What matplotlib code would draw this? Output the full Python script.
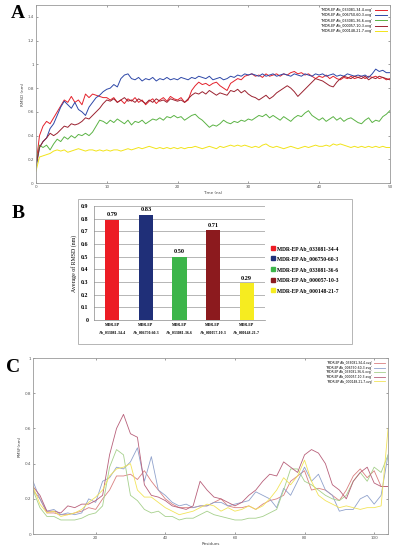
import matplotlib.pyplot as plt
from matplotlib.patches import Rectangle
from matplotlib.lines import Line2D
import numpy as np

# ---- panel A: RMSD vs time (ns), 0.5 ns steps ----
time_ns = [i * 0.5 for i in range(101)]

rmsd_033081_34 = [
    0.15, 0.40, 0.48, 0.52, 0.50, 0.55, 0.60, 0.65, 0.70, 0.68, 0.73, 0.68, 0.70, 0.66, 0.75, 0.72, 0.75, 0.74, 0.73, 0.72, 0.72,
    0.70, 0.72, 0.68, 0.70, 0.67, 0.71, 0.69, 0.72, 0.68, 0.70, 0.66, 0.69, 0.71, 0.67, 0.70, 0.72, 0.69, 0.73, 0.71, 0.70,
    0.72, 0.68, 0.70, 0.78, 0.82, 0.85, 0.83, 0.84, 0.82, 0.84, 0.85, 0.82, 0.80, 0.78, 0.84, 0.86, 0.88, 0.87, 0.90, 0.91,
    0.92, 0.90, 0.91, 0.89, 0.92, 0.90, 0.91, 0.92, 0.90, 0.92, 0.91, 0.93, 0.94, 0.92, 0.93, 0.91, 0.92, 0.90, 0.88, 0.90,
    0.89, 0.91, 0.88, 0.90, 0.88, 0.87, 0.89, 0.88, 0.90, 0.88, 0.89, 0.90, 0.88, 0.90, 0.89, 0.90, 0.88, 0.89, 0.87, 0.88]
rmsd_006750_60 = [
    0.12, 0.30, 0.35, 0.38, 0.46, 0.50, 0.57, 0.64, 0.69, 0.66, 0.63, 0.68, 0.62, 0.60, 0.57, 0.64, 0.68, 0.72, 0.74, 0.77, 0.79,
    0.80, 0.83, 0.81, 0.88, 0.91, 0.92, 0.88, 0.87, 0.89, 0.86, 0.88, 0.87, 0.89, 0.86, 0.88, 0.87, 0.89, 0.87, 0.88, 0.87,
    0.89, 0.88, 0.87, 0.89, 0.88, 0.90, 0.89, 0.88, 0.90, 0.87, 0.88, 0.89, 0.87, 0.88, 0.90, 0.89, 0.91, 0.90, 0.92, 0.91,
    0.92, 0.91, 0.90, 0.92, 0.90, 0.91, 0.92, 0.90, 0.91, 0.92, 0.91, 0.90, 0.92, 0.91, 0.90, 0.92, 0.91, 0.90, 0.92, 0.91,
    0.92, 0.90, 0.91, 0.92, 0.90, 0.91, 0.90, 0.92, 0.91, 0.90, 0.91, 0.90, 0.91, 0.89, 0.92, 0.96, 0.94, 0.95, 0.93, 0.93]
rmsd_033081_36 = [
    0.15, 0.32, 0.30, 0.32, 0.28, 0.33, 0.37, 0.35, 0.39, 0.37, 0.40, 0.38, 0.41, 0.40, 0.42, 0.40, 0.43, 0.48, 0.53, 0.52, 0.50,
    0.53, 0.51, 0.54, 0.52, 0.50, 0.53, 0.49, 0.52, 0.51, 0.53, 0.50, 0.52, 0.54, 0.53, 0.55, 0.53, 0.56, 0.55, 0.57, 0.55,
    0.56, 0.53, 0.55, 0.57, 0.58, 0.55, 0.53, 0.50, 0.47, 0.49, 0.48, 0.50, 0.53, 0.51, 0.50, 0.52, 0.51, 0.53, 0.52, 0.54,
    0.53, 0.55, 0.57, 0.56, 0.58, 0.55, 0.57, 0.55, 0.53, 0.56, 0.54, 0.52, 0.55, 0.57, 0.56, 0.59, 0.61, 0.57, 0.55, 0.53,
    0.55, 0.52, 0.54, 0.56, 0.53, 0.55, 0.52, 0.54, 0.55, 0.53, 0.51, 0.50, 0.53, 0.55, 0.51, 0.53, 0.52, 0.56, 0.58, 0.61]
rmsd_000057_10 = [
    0.15, 0.30, 0.35, 0.38, 0.42, 0.40, 0.42, 0.45, 0.48, 0.47, 0.50, 0.49, 0.50, 0.52, 0.55, 0.54, 0.57, 0.60, 0.63, 0.67, 0.70,
    0.69, 0.71, 0.68, 0.70, 0.72, 0.69, 0.70, 0.68, 0.71, 0.69, 0.67, 0.70, 0.68, 0.71, 0.69, 0.70, 0.68, 0.71, 0.70, 0.69,
    0.70, 0.68, 0.71, 0.74, 0.76, 0.75, 0.77, 0.75, 0.78, 0.76, 0.74, 0.76, 0.75, 0.74, 0.78, 0.77, 0.79, 0.76, 0.78, 0.75,
    0.73, 0.72, 0.70, 0.72, 0.74, 0.71, 0.73, 0.76, 0.78, 0.80, 0.82, 0.80, 0.77, 0.73, 0.76, 0.79, 0.82, 0.85, 0.88, 0.87,
    0.86, 0.84, 0.82, 0.81, 0.85, 0.88, 0.90, 0.89, 0.88, 0.90, 0.89, 0.88, 0.90, 0.87, 0.89, 0.88, 0.90, 0.89, 0.88, 0.87]
rmsd_000148_21 = [
    0.10, 0.22, 0.23, 0.24, 0.25, 0.27, 0.28, 0.27, 0.28, 0.26, 0.27, 0.28, 0.29, 0.28, 0.27, 0.28, 0.28, 0.27, 0.28, 0.27, 0.28,
    0.27, 0.28, 0.28, 0.27, 0.28, 0.29, 0.28, 0.29, 0.30, 0.29, 0.30, 0.31, 0.30, 0.29, 0.30, 0.29, 0.30, 0.29, 0.30, 0.29,
    0.30, 0.29, 0.30, 0.30, 0.31, 0.30, 0.29, 0.30, 0.31, 0.30, 0.29, 0.31, 0.30, 0.31, 0.32, 0.31, 0.32, 0.31, 0.32, 0.31,
    0.30, 0.31, 0.30, 0.32, 0.33, 0.31, 0.30, 0.31, 0.30, 0.29, 0.30, 0.31, 0.30, 0.29, 0.30, 0.31, 0.30, 0.31, 0.32, 0.31,
    0.31, 0.32, 0.31, 0.33, 0.32, 0.33, 0.32, 0.31, 0.30, 0.31, 0.30, 0.31, 0.30, 0.31, 0.30, 0.31, 0.30, 0.31, 0.30, 0.30]

# ---- panel B: average RMSD ----
bar_names = ["MDR-EP Ab_033081-34-4", "MDR-EP Ab_006750-60-3", "MDR-EP Ab_033081-36-6",
             "MDR-EP Ab_000057-10-3", "MDR-EP Ab_000148-21-7"]
bar_ticks = ["MDR-EP\nAb_033081-34-4", "MDR-EP\nAb_006750-60-3", "MDR-EP\nAb_033081-36-6",
             "MDR-EP\nAb_000057-10-3", "MDR-EP\nAb_000148-21-7"]
avg_rmsd = [0.79, 0.83, 0.50, 0.71, 0.29]

# ---- panel C: RMSF per residue ----
residues = list(range(2, 105, 2))
rmsf_033081_34 = [0.25, 0.20, 0.12, 0.12, 0.11, 0.11, 0.12, 0.13, 0.15, 0.14, 0.20, 0.25, 0.33, 0.33, 0.34,
                  0.31, 0.36, 0.30, 0.25, 0.20, 0.17, 0.15, 0.15, 0.15, 0.16, 0.16, 0.18, 0.20, 0.16, 0.15,
                  0.15, 0.16, 0.14, 0.17, 0.19, 0.20, 0.22, 0.30, 0.33, 0.36, 0.25, 0.26, 0.25, 0.22, 0.19,
                  0.25, 0.33, 0.37, 0.32, 0.36, 0.27, 0.27]
rmsf_006750_60 = [0.30, 0.20, 0.13, 0.14, 0.11, 0.12, 0.11, 0.12, 0.20, 0.18, 0.30, 0.32, 0.38, 0.37, 0.41,
                  0.49, 0.30, 0.44, 0.25, 0.22, 0.18, 0.16, 0.17, 0.15, 0.16, 0.16, 0.18, 0.18, 0.16, 0.17,
                  0.18, 0.19, 0.24, 0.22, 0.20, 0.15, 0.26, 0.22, 0.30, 0.38, 0.30, 0.34, 0.25, 0.22, 0.13,
                  0.14, 0.14, 0.20, 0.22, 0.17, 0.22, 0.45]
rmsf_033081_36 = [0.25, 0.15, 0.10, 0.10, 0.08, 0.08, 0.08, 0.09, 0.11, 0.12, 0.16, 0.38, 0.48, 0.45, 0.22,
                  0.19, 0.14, 0.12, 0.13, 0.10, 0.10, 0.08, 0.09, 0.09, 0.11, 0.13, 0.11, 0.10, 0.09, 0.08,
                  0.08, 0.09, 0.09, 0.10, 0.12, 0.14, 0.25, 0.37, 0.37, 0.30, 0.28, 0.25, 0.22, 0.20, 0.19,
                  0.22, 0.30, 0.35, 0.30, 0.38, 0.35, 0.45]
rmsf_000057_10 = [0.27, 0.22, 0.13, 0.13, 0.12, 0.16, 0.15, 0.17, 0.17, 0.19, 0.22, 0.45, 0.60, 0.68, 0.57,
                  0.55, 0.28, 0.22, 0.21, 0.19, 0.16, 0.15, 0.14, 0.16, 0.30, 0.25, 0.21, 0.20, 0.18, 0.16,
                  0.18, 0.22, 0.25, 0.30, 0.34, 0.33, 0.41, 0.38, 0.35, 0.45, 0.48, 0.46, 0.40, 0.28, 0.25,
                  0.20, 0.30, 0.35, 0.38, 0.29, 0.27, 0.27]
rmsf_000148_21 = [0.27, 0.17, 0.12, 0.13, 0.10, 0.11, 0.12, 0.14, 0.18, 0.21, 0.25, 0.33, 0.37, 0.38, 0.40,
                  0.25, 0.21, 0.21, 0.18, 0.15, 0.13, 0.11, 0.12, 0.13, 0.15, 0.17, 0.16, 0.13, 0.15, 0.13,
                  0.14, 0.16, 0.14, 0.16, 0.20, 0.25, 0.32, 0.28, 0.33, 0.42, 0.30, 0.22, 0.19, 0.17, 0.15,
                  0.16, 0.15, 0.14, 0.15, 0.15, 0.16, 0.60]

file_labels = ["'MDR-EP Ab_033081-34-4.xvg'", "'MDR-EP Ab_006750-60-3.xvg'", "'MDR-EP Ab_033081-36-6.xvg'",
               "'MDR-EP Ab_000057-10-3.xvg'", "'MDR-EP Ab_000148-21-7.xvg'"]

a_colors = ["#e4222c", "#2e48a8", "#5bb345", "#9b2230", "#f2e41a"]
b_colors = ["#ec1c24", "#1f2f78", "#3cb54a", "#8c1a1e", "#f6ec20"]
c_colors = ["#d98080", "#90a2cc", "#a6d08c", "#b8607a", "#f2e45a"]

fig = plt.figure(figsize=(3.95, 5.5), dpi=100)
fig.patch.set_facecolor("white")

def style_gnu(ax):
    for s in ax.spines.values():
        s.set_color("#999999")
        s.set_linewidth(0.6)
    ax.tick_params(direction="in", length=1.5, width=0.4, labelsize=3, colors="#555555",
                   top=True, right=True, pad=1.5)

def fmt(v, pos):
    return "%g" % round(v, 2)

# panel A
axA = fig.add_axes([0.091, 0.667, 0.896, 0.324])
seriesA = [rmsd_033081_34, rmsd_006750_60, rmsd_033081_36, rmsd_000057_10, rmsd_000148_21]
for vals, col, lab in zip(seriesA, a_colors, file_labels):
    axA.plot(time_ns, vals, color=col, lw=0.7, label=lab)
axA.set_xlim(0, 50)
axA.set_ylim(0, 1.5)
axA.set_xticks([0, 10, 20, 30, 40, 50])
axA.set_yticks([0, 0.2, 0.4, 0.6, 0.8, 1.0, 1.2, 1.4])
axA.yaxis.set_major_formatter(plt.FuncFormatter(fmt))
style_gnu(axA)
axA.set_xlabel("Time (ns)", fontsize=3, labelpad=1.5, color="#444444")
axA.set_ylabel("RMSD (nm)", fontsize=3, labelpad=2, color="#444444")
axA.legend(loc="upper right", fontsize=2.4, frameon=False, markerfirst=False,
           handlelength=3.5, labelspacing=0.35, borderaxespad=0.6)

# panel B
fig.patches.append(Rectangle((0.1975, 0.3745), 0.6935, 0.2635, transform=fig.transFigure,
                             fill=False, edgecolor="#aaaaaa", lw=0.6))
axB = fig.add_axes([0.238, 0.418, 0.433, 0.2073])
xb = np.arange(len(avg_rmsd))
axB.bar(xb, avg_rmsd, width=0.42, color=b_colors, zorder=3)
for x, v, col in zip(xb, avg_rmsd, b_colors):
    axB.text(x, v + 0.02, "%.2f" % v, ha="center", va="bottom", fontsize=4.5,
             fontweight="bold", family="Liberation Serif")
axB.set_xlim(-0.55, 4.55)
axB.set_ylim(0, 0.9)
axB.set_yticks(np.arange(0, 0.91, 0.1))
axB.yaxis.set_major_formatter(plt.FuncFormatter(fmt))
axB.set_xticks(xb)
axB.set_xticklabels(bar_ticks, fontsize=2.8, fontweight="bold", family="Liberation Serif",
                    linespacing=2.2)
for t in axB.get_yticklabels():
    t.set_fontweight("bold")
    t.set_family("Liberation Serif")
axB.tick_params(axis="y", labelsize=4.2, length=0, pad=4)
axB.tick_params(axis="x", length=0, pad=2)
axB.grid(axis="y", color="#999999", lw=0.5, zorder=0)
for s in ["top", "right"]:
    axB.spines[s].set_visible(False)
axB.spines["left"].set_color("#888888")
axB.spines["bottom"].set_color("#888888")
axB.spines["left"].set_linewidth(0.5)
axB.spines["bottom"].set_linewidth(0.5)
axB.set_ylabel("Average of RMSD (nm)", fontsize=4.2, family="Liberation Serif", labelpad=3)
handles = [Line2D([], [], marker="s", linestyle="", markersize=3, color=c) for c in b_colors]
axB.legend(handles, bar_names, loc="center left", bbox_to_anchor=(0.685, 0.51),
           bbox_transform=fig.transFigure, frameon=False, handletextpad=0.1,
           handlelength=1.0, borderpad=0, borderaxespad=0,
           labelspacing=1.0, prop={"family": "Liberation Serif", "weight": "bold", "size": 4.0})

# panel C
axC = fig.add_axes([0.0835, 0.029, 0.899, 0.32])
seriesC = [rmsf_033081_34, rmsf_006750_60, rmsf_033081_36, rmsf_000057_10, rmsf_000148_21]
for vals, col, lab in zip(seriesC, c_colors, file_labels):
    axC.plot(residues, vals, color=col, lw=0.6, label=lab)
axC.set_xlim(2, 104)
axC.set_ylim(0, 1)
axC.set_xticks([20, 40, 60, 80, 100])
axC.set_yticks([0, 0.2, 0.4, 0.6, 0.8, 1.0])
axC.yaxis.set_major_formatter(plt.FuncFormatter(fmt))
style_gnu(axC)
axC.set_xlabel("Residues", fontsize=3, labelpad=1.5, color="#444444")
axC.set_ylabel("RMSF(nm)", fontsize=3, labelpad=2, color="#444444")
axC.legend(loc="upper right", fontsize=2.2, frameon=False, markerfirst=False,
           handlelength=3.5, labelspacing=0.2, borderaxespad=0.6)

# panel letters
for lab, x, y in [("A", 0.045, 0.975), ("B", 0.045, 0.612), ("C", 0.033, 0.331)]:
    fig.text(x, y, lab, fontsize=14, fontweight="bold", family="Liberation Serif",
             ha="center", va="center")

fig.savefig("out.png", dpi=100)
